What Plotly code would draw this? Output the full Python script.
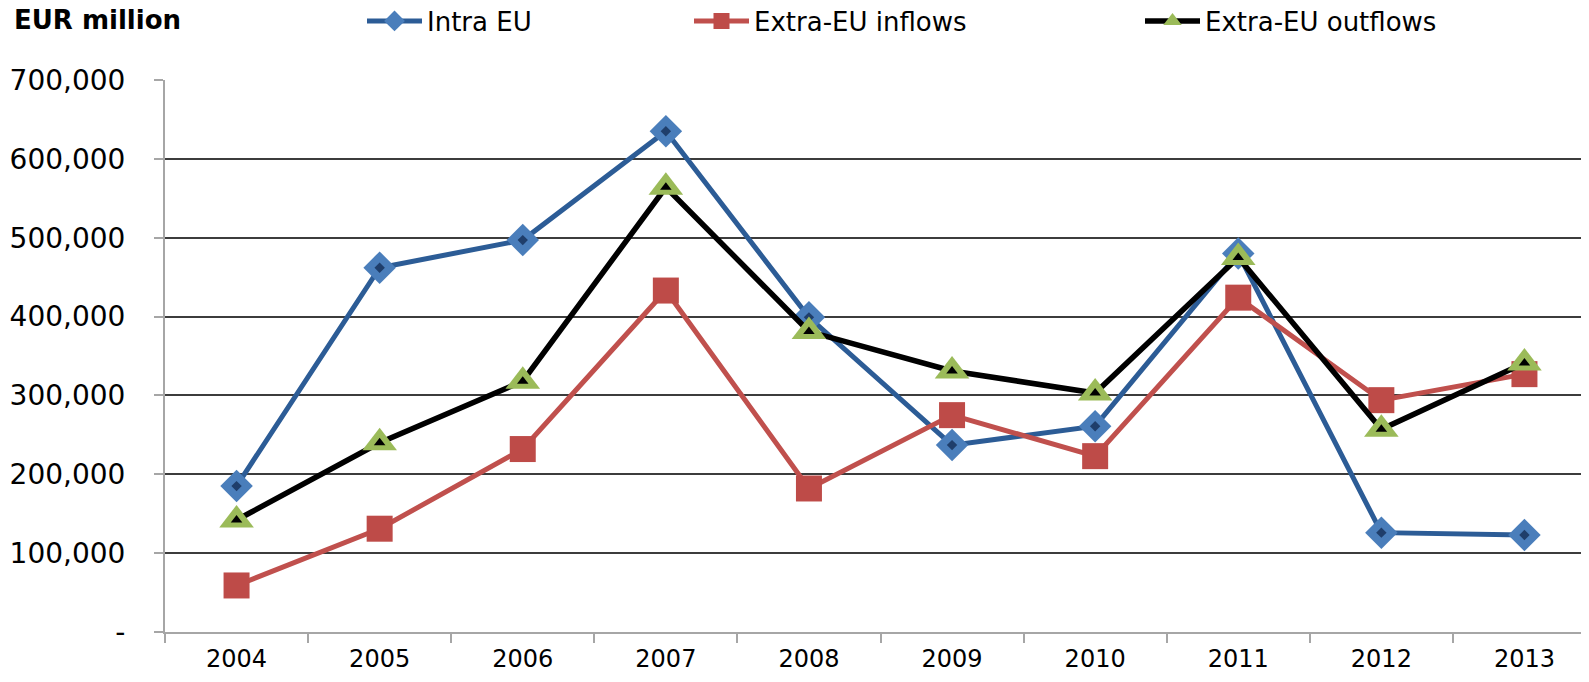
import plotly.graph_objects as go

years = ["2004", "2005", "2006", "2007", "2008", "2009", "2010", "2011", "2012", "2013"]
intra_eu = [185000, 462000, 497000, 635000, 399000, 237000, 261000, 480000, 126000, 123000]
extra_inflows = [59000, 131000, 232000, 433000, 182000, 275000, 223000, 424000, 294000, 327000]
extra_outflows = [142000, 240000, 318000, 564000, 381000, 331000, 303000, 475000, 257000, 341000]

y_tickvals = [0, 100000, 200000, 300000, 400000, 500000, 600000, 700000]
y_ticktext = ["-", "100,000", "200,000", "300,000", "400,000", "500,000", "600,000", "700,000"]

FONT = "DejaVu Sans"
# the page body has an 8px margin, so the figure is made 16px smaller to fit the window exactly
W, H = 1573, 666
ML, MR, MT, MB = 157, 0, 72, 42
PW = W - ML - MR
PH = H - MT - MB

fig = go.Figure()

fig.add_trace(go.Scatter(
    x=years, y=intra_eu, name="Intra EU", mode="lines+markers",
    line=dict(color="#2C5C96", width=5),
    marker=dict(symbol="diamond", size=25, color="#4A7EBB", line=dict(width=0)),
    legend="legend",
))
fig.add_trace(go.Scatter(
    x=years, y=intra_eu, mode="markers", showlegend=False, hoverinfo="skip",
    marker=dict(symbol="diamond", size=8, color="#1F3E6B", line=dict(width=0)),
))
fig.add_trace(go.Scatter(
    x=years, y=extra_inflows, name="Extra-EU inflows", mode="lines+markers",
    line=dict(color="#C0504D", width=5),
    marker=dict(symbol="square", size=26, color="#BE4B48", line=dict(width=0)),
    legend="legend2",
))
fig.add_trace(go.Scatter(
    x=years, y=extra_outflows, name="Extra-EU outflows", mode="lines+markers",
    line=dict(color="#000000", width=5.5),
    marker=dict(symbol="triangle-up", size=30, color="#9BBB59", line=dict(width=0)),
    legend="legend3",
))
fig.add_trace(go.Scatter(
    x=years, y=extra_outflows, mode="markers", showlegend=False, hoverinfo="skip",
    marker=dict(symbol="triangle-up", size=10, color="#000000", line=dict(width=0)),
))

leg_common = dict(orientation="h", yref="container", xref="container", yanchor="middle",
                  xanchor="left", y=1 - 13 / H, bgcolor="rgba(0,0,0,0)", itemwidth=55,
                  font=dict(family=FONT, size=26, color="#000000"))

fig.update_layout(
    width=W, height=H,
    margin=dict(l=ML, r=MR, t=MT, b=MB, autoexpand=False),
    paper_bgcolor="white", plot_bgcolor="white",
    font=dict(family=FONT, color="#000000"),
    showlegend=True,
    legend=dict(leg_common, x=(379 - 25) / W),
    legend2=dict(leg_common, x=(706 - 25) / W),
    legend3=dict(leg_common, x=(1157 - 25) / W),
    xaxis=dict(
        type="category", range=[-0.5, -0.5 + PW / 143.1], automargin=False,
        showgrid=False, showline=True, linecolor="#A6A6A6", linewidth=2,
        ticks="outside", tickson="boundaries", ticklen=9, tickcolor="#A6A6A6", tickwidth=2,
        tickfont=dict(family=FONT, size=24, color="#000000"),
        ticklabelstandoff=4,
    ),
    yaxis=dict(
        range=[0, 700000], tickvals=y_tickvals, ticktext=y_ticktext, automargin=False,
        showgrid=True, gridcolor="#3C3C3C", gridwidth=1.5,
        zeroline=False, showline=True, linecolor="#A6A6A6", linewidth=2,
        ticks="outside", ticklen=9, tickcolor="#A6A6A6", tickwidth=2,
        tickfont=dict(family=FONT, size=28, color="#000000"),
        ticklabelstandoff=23,
    ),
    annotations=[dict(
        text="<b>EUR million</b>", xref="paper", yref="paper",
        x=(4 - ML) / PW, y=(H - MB - 12) / PH, xanchor="left", yanchor="middle", showarrow=False,
        font=dict(family=FONT, size=26, color="#000000"),
    )],
)

fig.write_html("out.html")
